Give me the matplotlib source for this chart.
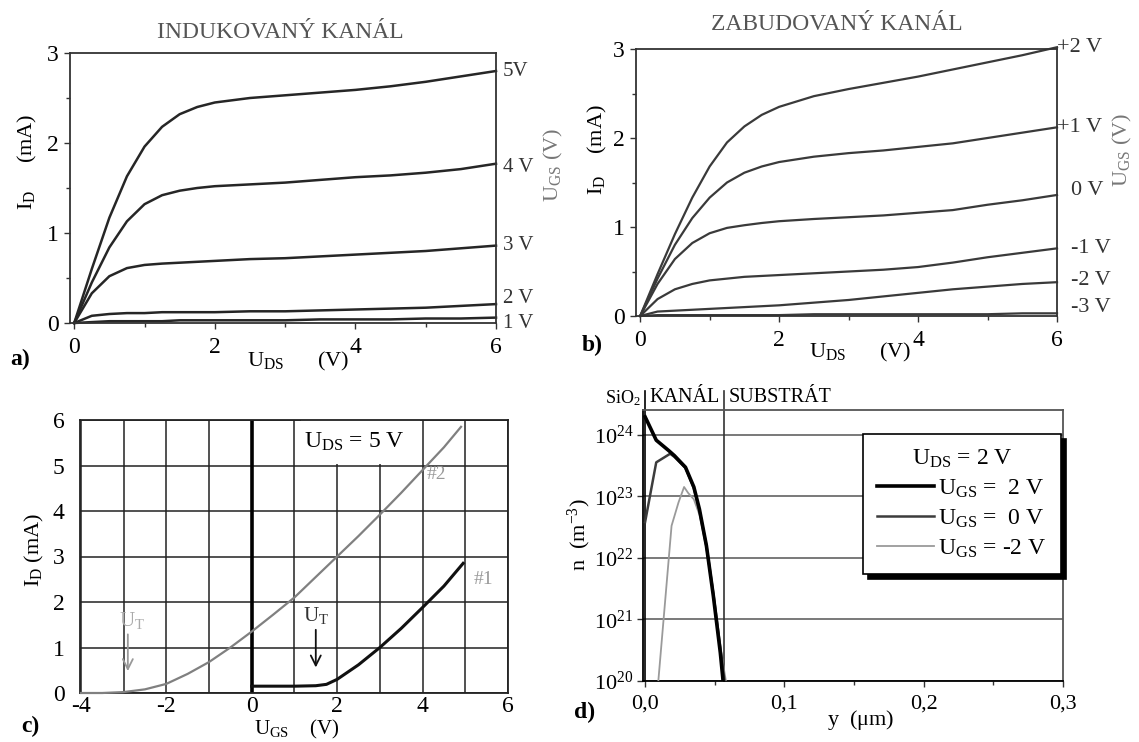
import numpy as np
import matplotlib
matplotlib.use('Agg')
import matplotlib.pyplot as plt
from matplotlib.patches import Rectangle
from matplotlib.ticker import MultipleLocator, FuncFormatter

plt.rcParams['font.family'] = ['Liberation Serif', 'DejaVu Serif']
plt.rcParams['mathtext.fontset'] = 'custom'
plt.rcParams['mathtext.rm'] = 'Liberation Serif'
plt.rcParams['mathtext.it'] = 'Liberation Serif:italic'
plt.rcParams['axes.unicode_minus'] = False
plt.rcParams['font.size'] = 16

# a) induced channel, output characteristics I_D(U_DS)
uds_a = [0, 0.25, 0.5, 0.75, 1.0, 1.25, 1.5, 1.75, 2.0, 2.5, 3.0, 3.5, 4.0, 4.5, 5.0, 5.5, 6.0]
id_a = {
    '5V':  [0, 0.6, 1.17, 1.63, 1.96, 2.18, 2.32, 2.4, 2.45, 2.5, 2.53, 2.56, 2.59, 2.63, 2.68, 2.74, 2.8],
    '4 V': [0, 0.45, 0.84, 1.13, 1.32, 1.42, 1.47, 1.5, 1.52, 1.54, 1.56, 1.59, 1.62, 1.64, 1.67, 1.71, 1.77],
    '3 V': [0, 0.33, 0.52, 0.61, 0.645, 0.66, 0.67, 0.68, 0.69, 0.71, 0.72, 0.74, 0.76, 0.78, 0.8, 0.83, 0.86],
    '2 V': [0, 0.08, 0.1, 0.11, 0.11, 0.12, 0.12, 0.12, 0.12, 0.13, 0.13, 0.14, 0.15, 0.16, 0.17, 0.19, 0.21],
    '1 V': [0, 0.01, 0.02, 0.02, 0.02, 0.02, 0.03, 0.03, 0.03, 0.03, 0.03, 0.04, 0.04, 0.04, 0.05, 0.05, 0.06],
}
label_shift_a = {'5V': 0.0, '4 V': -0.04, '3 V': 0.0, '2 V': 0.06, '1 V': -0.07}

# b) built-in channel
uds_b = [0, 0.25, 0.5, 0.75, 1.0, 1.25, 1.5, 1.75, 2.0, 2.5, 3.0, 3.5, 4.0, 4.5, 5.0, 5.5, 6.0]
id_b = {
    '+2 V': [0, 0.47, 0.92, 1.33, 1.68, 1.95, 2.13, 2.26, 2.35, 2.47, 2.55, 2.62, 2.69, 2.77, 2.85, 2.93, 3.02],
    '+1 V': [0, 0.42, 0.8, 1.1, 1.33, 1.5, 1.61, 1.68, 1.73, 1.79, 1.83, 1.86, 1.9, 1.94, 2.0, 2.06, 2.12],
    '0 V':  [0, 0.36, 0.64, 0.82, 0.93, 0.99, 1.02, 1.045, 1.065, 1.09, 1.11, 1.13, 1.16, 1.19, 1.25, 1.3, 1.36],
    '-1 V': [0, 0.19, 0.3, 0.36, 0.4, 0.42, 0.44, 0.45, 0.46, 0.48, 0.5, 0.52, 0.55, 0.6, 0.66, 0.71, 0.76],
    '-2 V': [0, 0.05, 0.06, 0.07, 0.08, 0.09, 0.1, 0.11, 0.12, 0.15, 0.18, 0.22, 0.26, 0.3, 0.33, 0.36, 0.38],
    '-3 V': [0, 0.01, 0.01, 0.01, 0.01, 0.01, 0.01, 0.01, 0.01, 0.02, 0.02, 0.02, 0.02, 0.02, 0.02, 0.03, 0.03],
}
label_shift_b = {'+2 V': 0.0, '+1 V': 0.0, '0 V': 0.05, '-1 V': 0.0, '-2 V': 0.02, '-3 V': 0.07}

# c) transfer characteristics at U_DS = 5 V
ugs_2 = [-4, -3.5, -3, -2.5, -2, -1.5, -1, -0.5, 0, 0.5, 1, 1.5, 2, 2.5, 3, 3.5, 4, 4.5, 4.9]
id_2 = [0, 0.0, 0.02, 0.08, 0.2, 0.42, 0.68, 1.0, 1.35, 1.72, 2.1, 2.55, 3.0, 3.45, 3.92, 4.4, 4.9, 5.4, 5.85]
ugs_1 = [0, 0.5, 1, 1.5, 1.75, 2, 2.5, 3, 3.5, 4, 4.5, 4.95]
id_1 = [0.15, 0.15, 0.15, 0.16, 0.19, 0.3, 0.62, 1.0, 1.42, 1.88, 2.35, 2.85]
ut_1, ut_2 = 1.5, -2.9

# d) electron concentration vs depth, U_DS = 2 V (log10 of n)
y_p2 = [0, 0.008, 0.017, 0.021, 0.029, 0.035, 0.039, 0.044, 0.049, 0.054, 0.056]
n_p2 = [24.29, 23.91, 23.74, 23.66, 23.47, 23.15, 22.79, 22.2, 21.38, 20.46, 20.0]
y_0 = [0, 0.008, 0.018, 0.021, 0.029, 0.035, 0.039, 0.044, 0.049, 0.054, 0.057]
n_0 = [22.58, 23.55, 23.69, 23.64, 23.46, 23.13, 22.77, 22.2, 21.42, 20.55, 20.0]
y_m2 = [0.0095, 0.019, 0.024, 0.028, 0.031, 0.035, 0.039, 0.044, 0.049, 0.054, 0.058]
n_m2 = [20.0, 22.52, 22.9, 23.15, 23.05, 22.95, 22.7, 22.15, 21.4, 20.55, 20.0]
channel_edge = 0.057

W, H = 1139, 742
fig = plt.figure(figsize=(W / 100, H / 100), dpi=100)


def rect(l, t, r, b):
    return [l / W, 1 - b / H, (r - l) / W, (b - t) / H]


def ftext(x, y, s, **kw):
    kw.setdefault('ha', 'center')
    kw.setdefault('va', 'center')
    fig.text(x / W, 1 - y / H, s, **kw)


def frame(ax, lw=1.3, color='#333333'):
    for sp in ax.spines.values():
        sp.set_linewidth(lw)
        sp.set_color(color)
    ax.tick_params(which='both', direction='out', color='#333333', width=1, pad=6)
    ax.tick_params(which='major', length=4)
    ax.tick_params(which='minor', length=3)


# ---- a)
ax = fig.add_axes(rect(70, 53, 496, 323))
for lab, vals in id_a.items():
    ax.plot(uds_a, vals, color='#262626', lw=1.8, clip_on=False)
    ax.text(6.1, vals[-1] + label_shift_a[lab], lab, va='center', ha='left', fontsize=15, color='#333333')
ax.set_xlim(-0.06, 6)
ax.set_ylim(0, 3)
ax.xaxis.set_major_locator(MultipleLocator(2))
ax.xaxis.set_minor_locator(MultipleLocator(1))
ax.yaxis.set_major_locator(MultipleLocator(1))
ax.yaxis.set_minor_locator(MultipleLocator(0.5))
frame(ax)
ax.tick_params(labelsize=17)
ax.tick_params(axis='y', pad=4)
ftext(280, 32, 'INDUKOVANÝ KANÁL', fontsize=17, color='#555555')
ftext(27, 162, r'$\mathregular{I_D}$     (mA)', rotation=90, fontsize=16)
ftext(298, 361, r'$\mathregular{U_{DS}}$      (V)', fontsize=16)
ftext(553, 165, r'$\mathregular{U_{GS}}$ (V)', rotation=90, fontsize=16, color='#777777')
ftext(20, 359, 'a)', fontsize=17, fontweight='bold')

# ---- b)
ax = fig.add_axes(rect(636, 49, 1057, 316))
for lab, vals in id_b.items():
    ax.plot(uds_b, vals, color='#3a3a3a', lw=1.6, clip_on=False)
    ax.text(6.0 if lab.startswith('+') else 6.2, vals[-1] + label_shift_b[lab],
            lab, va='center', ha='left', fontsize=16, color='#333333')
ax.set_xlim(-0.06, 6)
ax.set_ylim(0, 3)
ax.xaxis.set_major_locator(MultipleLocator(2))
ax.xaxis.set_minor_locator(MultipleLocator(1))
ax.yaxis.set_major_locator(MultipleLocator(1))
ax.yaxis.set_minor_locator(MultipleLocator(0.5))
frame(ax)
ax.tick_params(labelsize=17)
ax.tick_params(axis='y', pad=4)
ftext(837, 25, 'ZABUDOVANÝ KANÁL', fontsize=17, color='#555555')
ftext(597, 150, r'$\mathregular{I_D}$    (mA)', rotation=90, fontsize=16)
ftext(860, 352, r'$\mathregular{U_{DS}}$      (V)', fontsize=16)
ftext(1122, 150, r'$\mathregular{U_{GS}}$ (V)', rotation=90, fontsize=16, color='#777777')
ftext(592, 345, 'b)', fontsize=17, fontweight='bold')

# ---- c)
ax = fig.add_axes(rect(80, 420, 508, 693))
ax.set_axisbelow(True)
ax.set_xlim(-4.02, 6)
ax.set_ylim(0, 6)
ax.set_xticks(range(-4, 7))
ax.set_xticklabels([str(v) if v % 2 == 0 else '' for v in range(-4, 7)])
ax.set_yticks(range(0, 7))
ax.grid(True, color='#222222', lw=1.1)
frame(ax, color='#222222')
ax.tick_params(labelsize=17, length=0)
ax.tick_params(axis='x', pad=2)
ax.tick_params(axis='y', pad=11)
ax.axvline(0, color='black', lw=2.6, zorder=2)
ax.add_patch(Rectangle((1.15, 5.04), 2.8, 0.96, facecolor='white', edgecolor='none', zorder=1.5))
ax.text(2.4, 5.52, r'$\mathregular{U_{DS}}$ = 5 V', ha='center', va='center', fontsize=17, zorder=3)
ax.plot(ugs_2, id_2, color='#808080', lw=1.6, clip_on=False, zorder=3)
ax.plot(ugs_1, id_1, color='#111111', lw=2.2, clip_on=False, zorder=3)
ax.text(4.1, 4.8, '#2', color='#999999', fontsize=14, ha='left', va='center')
ax.text(5.2, 2.5, '#1', color='#999999', fontsize=14, ha='left', va='center')
ax.annotate('', xy=(ut_2, 0.42), xytext=(ut_2, 1.35),
            arrowprops=dict(arrowstyle='->', color='#999999', lw=1.3, mutation_scale=18))
ax.text(ut_2 + 0.1, 1.6, r'$\mathregular{U_T}$', color='#aaaaaa', fontsize=15, ha='center', va='center')
ax.annotate('', xy=(ut_1, 0.5), xytext=(ut_1, 1.45),
            arrowprops=dict(arrowstyle='->', color='#111111', lw=1.3, mutation_scale=18))
ax.text(ut_1, 1.7, r'$\mathregular{U_T}$', color='#333333', fontsize=15, ha='center', va='center')
ftext(34, 550, r'$\mathregular{I_D}$ (mA)', rotation=90, fontsize=16)
ftext(297, 741, r'$\mathregular{U_{GS}}$    (V)', fontsize=15, va='bottom')
ftext(30, 726, 'c)', fontsize=17, fontweight='bold')

# ---- d)
ax = fig.add_axes(rect(643, 410, 1063, 681))
ax.set_yscale('log')
ax.set_xlim(-0.0015, 0.3)
ax.set_ylim(1e20, 10 ** 24.4)
ax.set_yticks([1e20, 1e21, 1e22, 1e23, 1e24])
ax.yaxis.set_minor_locator(plt.NullLocator())
ax.xaxis.set_major_locator(MultipleLocator(0.1))
ax.xaxis.set_minor_locator(MultipleLocator(0.05))
ax.xaxis.set_major_formatter(FuncFormatter(lambda v, p: f'{v:.1f}'.replace('.', ',')))
ax.grid(True, axis='y', color='#555555', lw=1.1)
frame(ax, color='#555555')
ax.spines['left'].set_color('black')
ax.spines['bottom'].set_color('black')
ax.tick_params(labelsize=16)
ax.tick_params(axis='y', pad=3)
ax.plot(y_m2, 10 ** np.array(n_m2), color='#9a9a9a', lw=1.3, label=r'$\mathregular{U_{GS}}$ = -2 V', zorder=3)
ax.plot(y_0, 10 ** np.array(n_0), color='#3c3c3c', lw=1.8, label=r'$\mathregular{U_{GS}}$ =  0 V', zorder=3)
ax.plot(y_p2, 10 ** np.array(n_p2), color='black', lw=2.6, label=r'$\mathregular{U_{GS}}$ =  2 V', zorder=4)
# oxide / channel / substrate boundaries, drawn past the top edge
ax.plot([0, 0], [0, 1.07], color='black', lw=1.2, transform=ax.get_xaxis_transform(), clip_on=False)
ax.plot([channel_edge, channel_edge], [0, 1.07], color='#333333', lw=1.2,
        transform=ax.get_xaxis_transform(), clip_on=False)
ax.text(-0.003, 1.045, r'SiO$_2$', transform=ax.get_xaxis_transform(), ha='right', va='center', fontsize=13)
ax.text(0.003, 1.045, 'KANÁL', transform=ax.get_xaxis_transform(), ha='left', va='center', fontsize=14.5)
ax.text(channel_edge + 0.003, 1.045, 'SUBSTRÁT', transform=ax.get_xaxis_transform(), ha='left', va='center',
        fontsize=14.5)
handles, labels = ax.get_legend_handles_labels()
leg = ax.legend(handles[::-1], labels[::-1], title=r'$\mathregular{U_{DS}}$ = 2 V', loc='upper left',
                bbox_to_anchor=(0.495, 0.956), fontsize=17, title_fontsize=17, frameon=True,
                fancybox=False, shadow={'color': 'black', 'alpha': 1.0, 'ox': 4, 'oy': -4},
                edgecolor='black', handlelength=2.4, handletextpad=0.2, borderpad=0.6,
                labelspacing=0.32, framealpha=1)
leg.get_frame().set_linewidth(1.2)
ftext(579, 535, r'n  (m$^{-3}$)', rotation=90, fontsize=16)
ftext(861, 720, r'y  ($\mathregular{\mu}$m)', fontsize=16)
ftext(585, 712, 'd)', fontsize=17, fontweight='bold')

fig.savefig('out.png', dpi=100)
